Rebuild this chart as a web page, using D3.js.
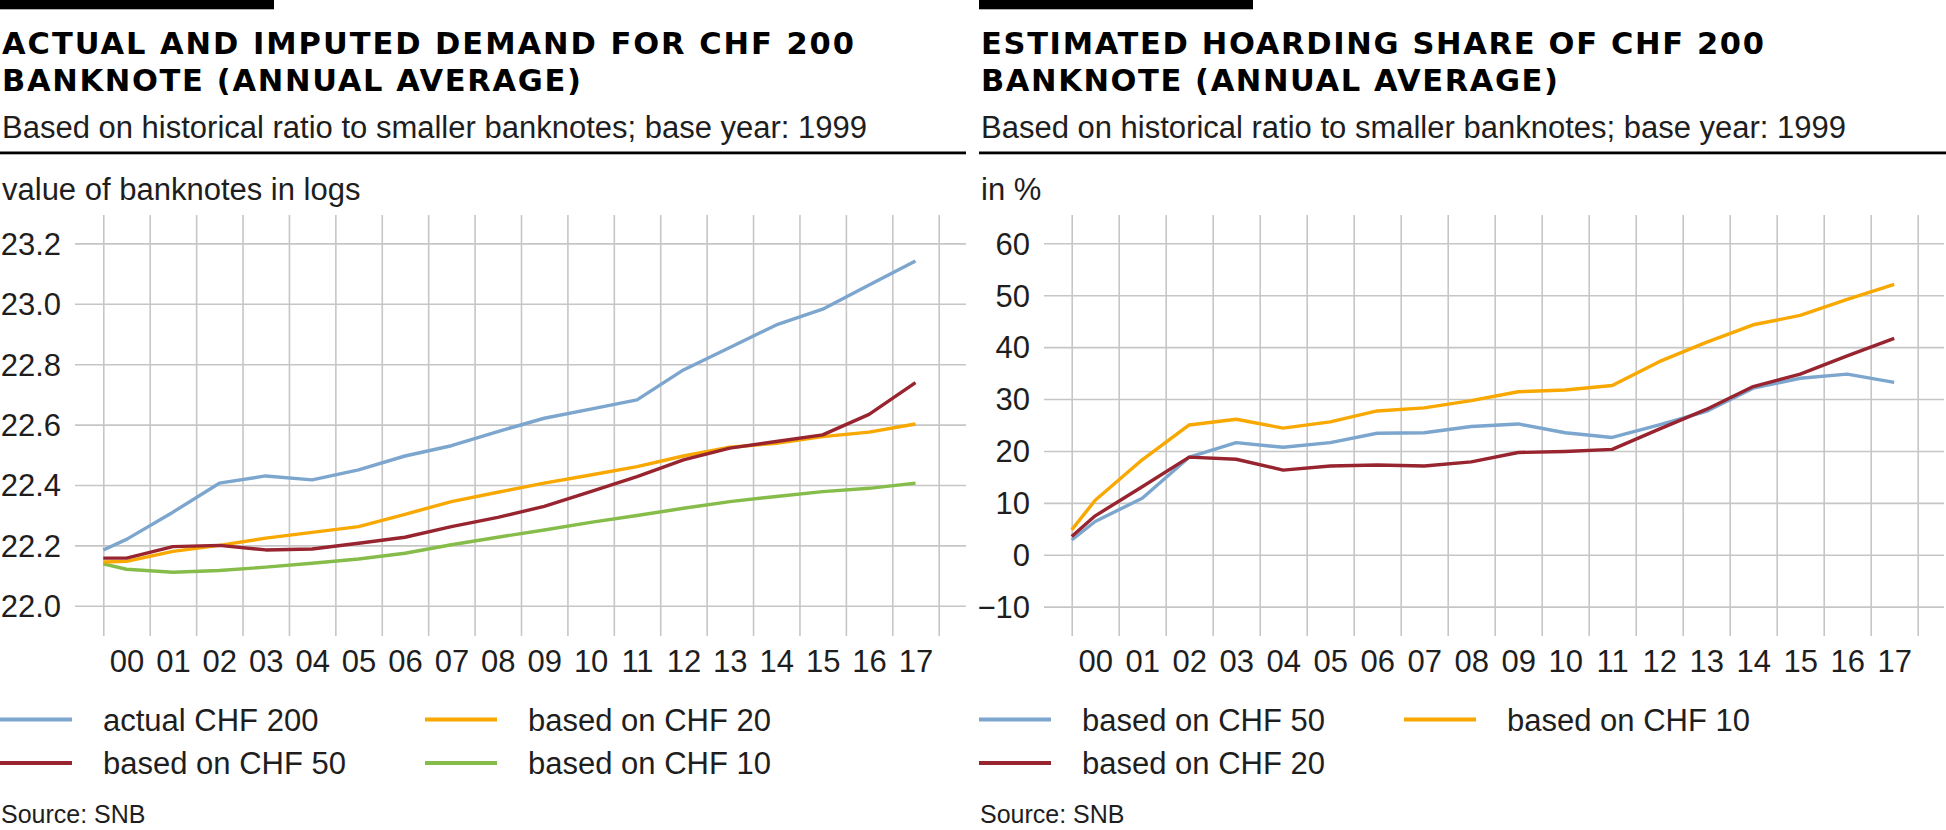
<!DOCTYPE html>
<html>
<head>
<meta charset="utf-8">
<script src="https://cdn.jsdelivr.net/npm/d3@7"></script>
<style>
  html, body { margin: 0; padding: 0; background: #fff; }
  svg { display: block; font-family: "Liberation Sans", Arial, Helvetica, sans-serif; }
</style>
</head>
<body>
<svg id="chart" width="1946" height="830"></svg>
<script>
// ---------- DATA ----------
// x positions: base point (end of 1999) followed by annual averages 2000..2017
const xPoints = [1999.5, 2000, 2001, 2002, 2003, 2004, 2005, 2006, 2007, 2008, 2009, 2010, 2011, 2012, 2013, 2014, 2015, 2016, 2017];
const yearCenters = [2000, 2001, 2002, 2003, 2004, 2005, 2006, 2007, 2008, 2009, 2010, 2011, 2012, 2013, 2014, 2015, 2016, 2017];
const yearLabels = ["00","01","02","03","04","05","06","07","08","09","10","11","12","13","14","15","16","17"];

// Left chart: value of banknotes in logs
const leftTicks = [22.0, 22.2, 22.4, 22.6, 22.8, 23.0, 23.2];
const actual200 = [22.185, 22.22, 22.31, 22.406, 22.43, 22.417, 22.45, 22.496, 22.53, 22.577, 22.621, 22.651, 22.682, 22.781, 22.855, 22.93, 22.982, 23.062, 23.142];
const imputed50 = [22.158, 22.158, 22.196, 22.2, 22.185, 22.188, 22.207, 22.227, 22.262, 22.293, 22.329, 22.378, 22.428, 22.483, 22.522, 22.544, 22.566, 22.634, 22.739];
const imputed20 = [22.145, 22.147, 22.18, 22.2, 22.224, 22.243, 22.262, 22.303, 22.345, 22.376, 22.406, 22.433, 22.461, 22.496, 22.525, 22.538, 22.56, 22.575, 22.602];
const imputed10 = [22.139, 22.121, 22.111, 22.117, 22.128, 22.141, 22.155, 22.174, 22.202, 22.227, 22.251, 22.276, 22.299, 22.323, 22.345, 22.362, 22.378, 22.389, 22.406];

// Right chart: hoarding share in %
const rightTicks = [-10, 0, 10, 20, 30, 40, 50, 60];
const hoard50 = [2.85, 6.4, 10.9, 18.8, 21.6, 20.7, 21.6, 23.4, 23.5, 24.7, 25.2, 23.5, 22.6, 25.0, 27.6, 32.1, 34.0, 34.8, 33.2];
const hoard20 = [3.5, 7.5, 13.1, 18.8, 18.4, 16.3, 17.1, 17.3, 17.1, 17.9, 19.7, 19.9, 20.3, 24.2, 28.0, 32.4, 34.8, 38.3, 41.7];
const hoard10 = [4.8, 10.5, 18.3, 25.0, 26.1, 24.4, 25.6, 27.7, 28.3, 29.7, 31.4, 31.75, 32.6, 37.2, 40.9, 44.3, 46.1, 49.2, 52.1];

// ---------- STYLE ----------
const C = { blue: "#7ca6cd", red: "#982430", orange: "#f8a800", green: "#86bd4a", grid: "#c6c6c6", text: "#1e1e1e" };

const svg = d3.select("#chart");

function panel(cfg) {
  const g = svg.append("g");
  const x0 = cfg.x0;

  // black bar
  g.append("rect").attr("x", x0).attr("y", 0).attr("width", 274).attr("height", 9.3).attr("fill", "#000");
  // title
  cfg.title.forEach((t, i) => {
    g.append("text").attr("x", x0 + 2).attr("y", 54 + i * 36.7)
      .attr("font-family", "'DejaVu Sans', 'Liberation Sans', sans-serif")
      .attr("font-size", 30.5).attr("font-weight", "bold").attr("fill", "#000")
      .attr("textLength", cfg.titleLen[i]).attr("lengthAdjust", "spacing")
      .text(t);
  });
  g.append("text").attr("x", x0 + 2).attr("y", 138).attr("font-size", 31).attr("fill", C.text)
    .text("Based on historical ratio to smaller banknotes; base year: 1999");
  g.append("rect").attr("x", x0).attr("y", 151.5).attr("width", cfg.ruleW).attr("height", 2.8).attr("fill", "#000");
  g.append("text").attr("x", x0 + 2).attr("y", 200).attr("font-size", 31).attr("fill", C.text).text(cfg.unit);

  const x = d3.scaleLinear().domain([1999.5, 2017.5]).range(cfg.xRange);
  const y = d3.scaleLinear().domain(cfg.yDomain).range([636, 215]);

  // horizontal grid + y labels
  const yAxis = d3.axisLeft(y).tickValues(cfg.ticks).tickFormat(cfg.fmt)
    .tickSizeInner(-(cfg.gridX[1] - cfg.gridX[0])).tickSizeOuter(0).tickPadding(14);
  const ya = g.append("g").attr("transform", `translate(${cfg.gridX[0]},0)`).call(yAxis);
  ya.select(".domain").remove();
  ya.selectAll("line").attr("stroke", C.grid).attr("stroke-width", 1.6);
  ya.selectAll("text").attr("font-size", 31).attr("fill", C.text)
    .attr("font-family", "'Liberation Sans', Arial, sans-serif").attr("dy", "0.35em");

  // vertical grid
  const vAxis = d3.axisBottom(x).tickValues(d3.range(1999.5, 2018, 1)).tickFormat("")
    .tickSizeInner(-(636 - 215)).tickSizeOuter(0);
  const va = g.append("g").attr("transform", "translate(0,636)").call(vAxis);
  va.select(".domain").remove();
  va.selectAll("line").attr("stroke", C.grid).attr("stroke-width", 1.6);

  // x labels
  const xAxis = d3.axisBottom(x).tickValues(yearCenters)
    .tickFormat((d, i) => yearLabels[i]).tickSize(0).tickPadding(0);
  const xa = g.append("g").attr("transform", "translate(0,672)").call(xAxis);
  xa.select(".domain").remove();
  xa.selectAll("text").attr("font-size", 31).attr("fill", C.text).attr("dy", 0)
    .attr("font-family", "'Liberation Sans', Arial, sans-serif");

  // lines
  const line = d3.line().x((d, i) => x(xPoints[i])).y(d => y(d));
  cfg.series.forEach(s => {
    g.append("path").datum(s.values).attr("d", line)
      .attr("fill", "none").attr("stroke", s.color).attr("stroke-width", 3.4)
      .attr("stroke-linejoin", "round");
  });

  // legend
  cfg.legend.forEach(l => {
    const lx = x0 + l.col * 425, ly = 719.5 + l.row * 43.4;
    g.append("line").attr("x1", lx).attr("x2", lx + 72).attr("y1", ly).attr("y2", ly)
      .attr("stroke", l.color).attr("stroke-width", 4);
    g.append("text").attr("x", lx + 103).attr("y", ly + 11).attr("font-size", 31).attr("fill", C.text).text(l.label);
  });

  g.append("text").attr("x", x0 + 1).attr("y", 823).attr("font-size", 25).attr("fill", C.text).text("Source: SNB");
}

panel({
  x0: 0,
  title: ["ACTUAL AND IMPUTED DEMAND FOR CHF 200", "BANKNOTE (ANNUAL AVERAGE)"],
  titleLen: [852, 579],
  ruleW: 966,
  unit: "value of banknotes in logs",
  xRange: [103.3, 938.7],
  gridX: [75, 966],
  yDomain: [21.9, 23.294],
  ticks: leftTicks,
  fmt: d3.format(".1f"),
  series: [
    { values: imputed10, color: C.green },
    { values: imputed20, color: C.orange },
    { values: imputed50, color: C.red },
    { values: actual200, color: C.blue }
  ],
  legend: [
    { label: "actual CHF 200", color: C.blue, col: 0, row: 0 },
    { label: "based on CHF 50", color: C.red, col: 0, row: 1 },
    { label: "based on CHF 20", color: C.orange, col: 1, row: 0 },
    { label: "based on CHF 10", color: C.green, col: 1, row: 1 }
  ]
});

panel({
  x0: 979,
  title: ["ESTIMATED HOARDING SHARE OF CHF 200", "BANKNOTE (ANNUAL AVERAGE)"],
  titleLen: [783, 577],
  ruleW: 967,
  unit: "in %",
  xRange: [1071.7, 1917.7],
  gridX: [1044, 1944],
  yDomain: [-15.65, 65.45],
  ticks: rightTicks,
  fmt: d3.format("d"),
  series: [
    { values: hoard50, color: C.blue },
    { values: hoard20, color: C.red },
    { values: hoard10, color: C.orange }
  ],
  legend: [
    { label: "based on CHF 50", color: C.blue, col: 0, row: 0 },
    { label: "based on CHF 20", color: C.red, col: 0, row: 1 },
    { label: "based on CHF 10", color: C.orange, col: 1, row: 0 }
  ]
});
</script>
</body>
</html>
